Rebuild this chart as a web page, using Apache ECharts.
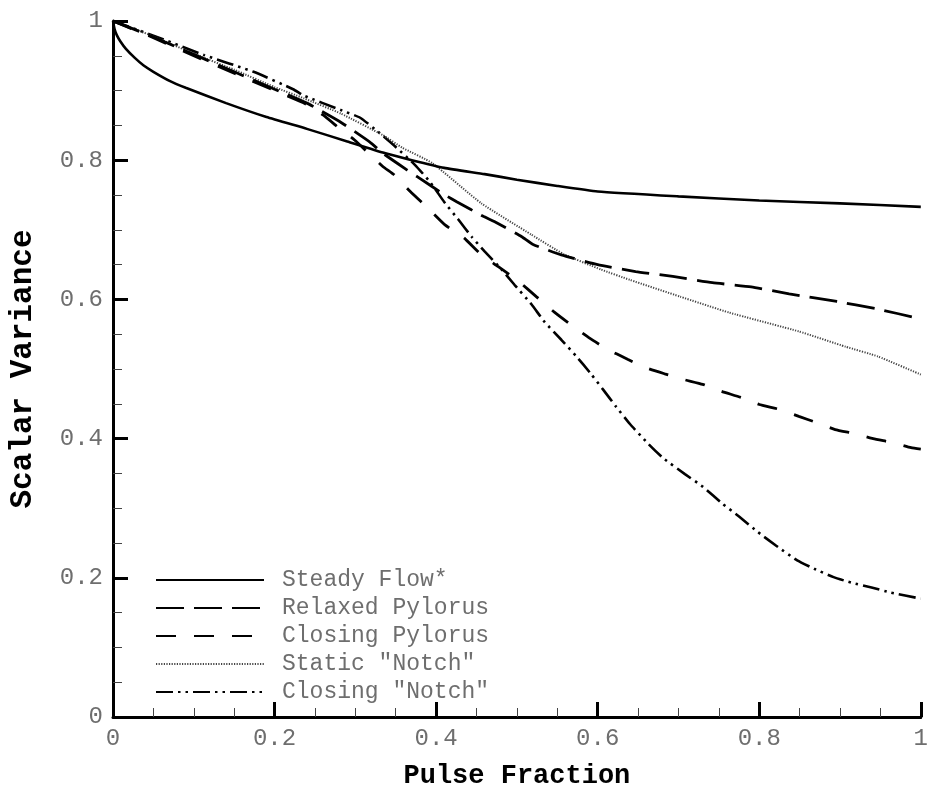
<!DOCTYPE html>
<html>
<head>
<meta charset="utf-8">
<script src="https://cdn.jsdelivr.net/npm/echarts@6/dist/echarts.min.js"></script>
<style>
  html, body { margin: 0; padding: 0; background: #fff; }
  #chart { width: 931px; height: 795px; }
</style>
</head>
<body>
<div id="chart"></div>
<script>
// Scalar variance versus pulse fraction, one [fraction, variance] list per case
const steadyFlow = [
  [0, 1.0], [0.002, 0.988], [0.005, 0.979], [0.009, 0.971], [0.016, 0.960],
  [0.027, 0.947], [0.038, 0.936], [0.05, 0.927], [0.07, 0.914], [0.09, 0.904],
  [0.14, 0.882], [0.19, 0.862], [0.24, 0.845], [0.29, 0.827], [0.334, 0.811],
  [0.37, 0.800], [0.41, 0.789], [0.46, 0.780], [0.50, 0.772], [0.55, 0.763],
  [0.60, 0.755], [0.70, 0.748], [0.80, 0.742], [0.90, 0.738], [1.0, 0.733]
];
const relaxedPylorus = [
  [0, 1.0], [0.05, 0.977], [0.10, 0.952], [0.15, 0.927], [0.20, 0.902],
  [0.24, 0.882], [0.28, 0.856], [0.318, 0.826], [0.334, 0.810], [0.364, 0.786],
  [0.377, 0.776], [0.411, 0.750], [0.426, 0.740], [0.459, 0.719], [0.472, 0.712],
  [0.506, 0.690], [0.52, 0.679], [0.555, 0.664], [0.60, 0.650], [0.647, 0.640],
  [0.693, 0.633], [0.742, 0.624], [0.79, 0.618], [0.837, 0.608], [0.896, 0.597],
  [0.943, 0.587], [1.0, 0.572]
];
const closingPylorus = [
  [0, 1.0], [0.05, 0.976], [0.10, 0.950], [0.15, 0.925], [0.20, 0.900],
  [0.24, 0.880], [0.26, 0.865], [0.282, 0.844], [0.299, 0.829], [0.334, 0.791],
  [0.348, 0.779], [0.368, 0.755], [0.389, 0.732], [0.411, 0.707], [0.434, 0.689],
  [0.456, 0.664], [0.477, 0.647], [0.502, 0.626], [0.524, 0.604], [0.546, 0.582],
  [0.564, 0.566], [0.589, 0.545], [0.611, 0.529], [0.637, 0.514], [0.659, 0.502],
  [0.683, 0.493], [0.706, 0.485], [0.73, 0.478], [0.753, 0.468], [0.778, 0.459],
  [0.80, 0.449], [0.825, 0.442], [0.849, 0.432], [0.871, 0.423], [0.894, 0.413],
  [0.919, 0.407], [0.941, 0.400], [0.966, 0.394], [0.988, 0.387], [1.0, 0.385]
];
const staticNotch = [
  [0, 1.0], [0.05, 0.978], [0.10, 0.953], [0.15, 0.930], [0.20, 0.905],
  [0.236, 0.889], [0.282, 0.867], [0.334, 0.836], [0.358, 0.818], [0.395, 0.796],
  [0.456, 0.738], [0.518, 0.693], [0.558, 0.665], [0.604, 0.643], [0.64, 0.628],
  [0.702, 0.604], [0.763, 0.581], [0.849, 0.554], [0.907, 0.532], [0.947, 0.518],
  [1.0, 0.492]
];
const closingNotch = [
  [0, 1.0], [0.05, 0.979], [0.113, 0.951], [0.174, 0.927], [0.223, 0.902],
  [0.236, 0.893], [0.282, 0.872], [0.306, 0.861], [0.33, 0.839], [0.35, 0.819],
  [0.374, 0.793], [0.393, 0.768], [0.41, 0.740], [0.428, 0.714], [0.444, 0.690],
  [0.46, 0.669], [0.481, 0.643], [0.497, 0.621], [0.518, 0.593], [0.534, 0.568],
  [0.555, 0.542], [0.573, 0.519], [0.591, 0.494], [0.607, 0.470], [0.622, 0.447],
  [0.64, 0.421], [0.663, 0.392], [0.681, 0.372], [0.708, 0.349], [0.73, 0.331],
  [0.755, 0.306], [0.775, 0.288], [0.798, 0.266], [0.821, 0.246], [0.847, 0.225],
  [0.868, 0.213], [0.892, 0.201], [0.914, 0.193], [0.939, 0.186], [0.962, 0.179],
  [1.0, 0.170]
];

const seriesNames = ['Steady Flow*', 'Relaxed Pylorus', 'Closing Pylorus', 'Static "Notch"', 'Closing "Notch"'];
const seriesData = [steadyFlow, relaxedPylorus, closingPylorus, staticNotch, closingNotch];
const xTicks = [0, 0.2, 0.4, 0.6, 0.8, 1];
const yTicks = [0, 0.2, 0.4, 0.6, 0.8, 1];

const mono = '"Courier New", "Liberation Mono", monospace';
const labelGray = '#6e6e6e';

// Stroke pattern for each case
const strokes = [
  { type: 'solid', width: 2.6, color: '#000' },
  { type: [28, 10], width: 2.8, color: '#000' },
  { type: [20, 18], width: 2.8, color: '#000' },
  { type: [1.2, 1.4], width: 2, color: '#444' },
  { type: [17, 5, 2.5, 5, 2.5, 5], width: 2.6, color: '#000' }
];

function axisCommon(ticks) {
  return {
    type: 'value',
    min: 0,
    max: 1,
    interval: 0.2,
    axisLine: { show: true, lineStyle: { color: '#000', width: 3 } },
    axisTick: { show: true, inside: true, length: 15, lineStyle: { color: '#000', width: 3 } },
    minorTick: { show: true, splitNumber: 4, length: 9, lineStyle: { color: '#444', width: 1 } },
    splitLine: { show: false },
    axisLabel: {
      color: labelGray,
      fontFamily: mono,
      fontSize: 24,
      margin: 10,
      formatter: function (v) {
        const r = Math.round(v * 10) / 10;
        return ticks.indexOf(r) >= 0 ? String(r) : '';
      }
    }
  };
}

const chart = echarts.init(document.getElementById('chart'), null, { renderer: 'canvas' });

const xAxis = Object.assign(axisCommon(xTicks), {
  name: 'Pulse Fraction',
  nameLocation: 'middle',
  nameGap: 46,
  nameTextStyle: { color: '#000', fontFamily: mono, fontWeight: 'bold', fontSize: 27 }
});

const yAxis = Object.assign(axisCommon(yTicks), {
  name: 'Scalar Variance',
  nameLocation: 'middle',
  nameGap: 74,
  nameRotate: 90,
  nameTextStyle: { color: '#000', fontFamily: mono, fontWeight: 'bold', fontSize: 31 }
});

chart.setOption({
  animation: false,
  backgroundColor: '#fff',
  grid: { left: 108, right: 8, top: 21, bottom: 77, containLabel: false },
  xAxis: xAxis,
  yAxis: yAxis,
  legend: {
    show: true,
    orient: 'vertical',
    left: 150,
    top: 563,
    itemWidth: 108,
    itemHeight: 14,
    itemGap: 4,
    selectedMode: false,
    itemStyle: { opacity: 0 },
    lineStyle: { opacity: 1 },
    data: seriesNames.map(function (n) { return { name: n }; }),
    textStyle: { color: labelGray, fontFamily: mono, fontSize: 23, lineHeight: 24, padding: [0, 0, 0, 13] }
  },
  series: seriesData.map(function (d, i) {
    return {
      name: seriesNames[i],
      type: 'line',
      data: d,
      showSymbol: false,
      symbol: 'none',
      smooth: 0.15,
      clip: true,
      z: 10 - i,
      lineStyle: { type: strokes[i].type, width: strokes[i].width, color: strokes[i].color },
      itemStyle: { color: strokes[i].color }
    };
  })
});
</script>
</body>
</html>
